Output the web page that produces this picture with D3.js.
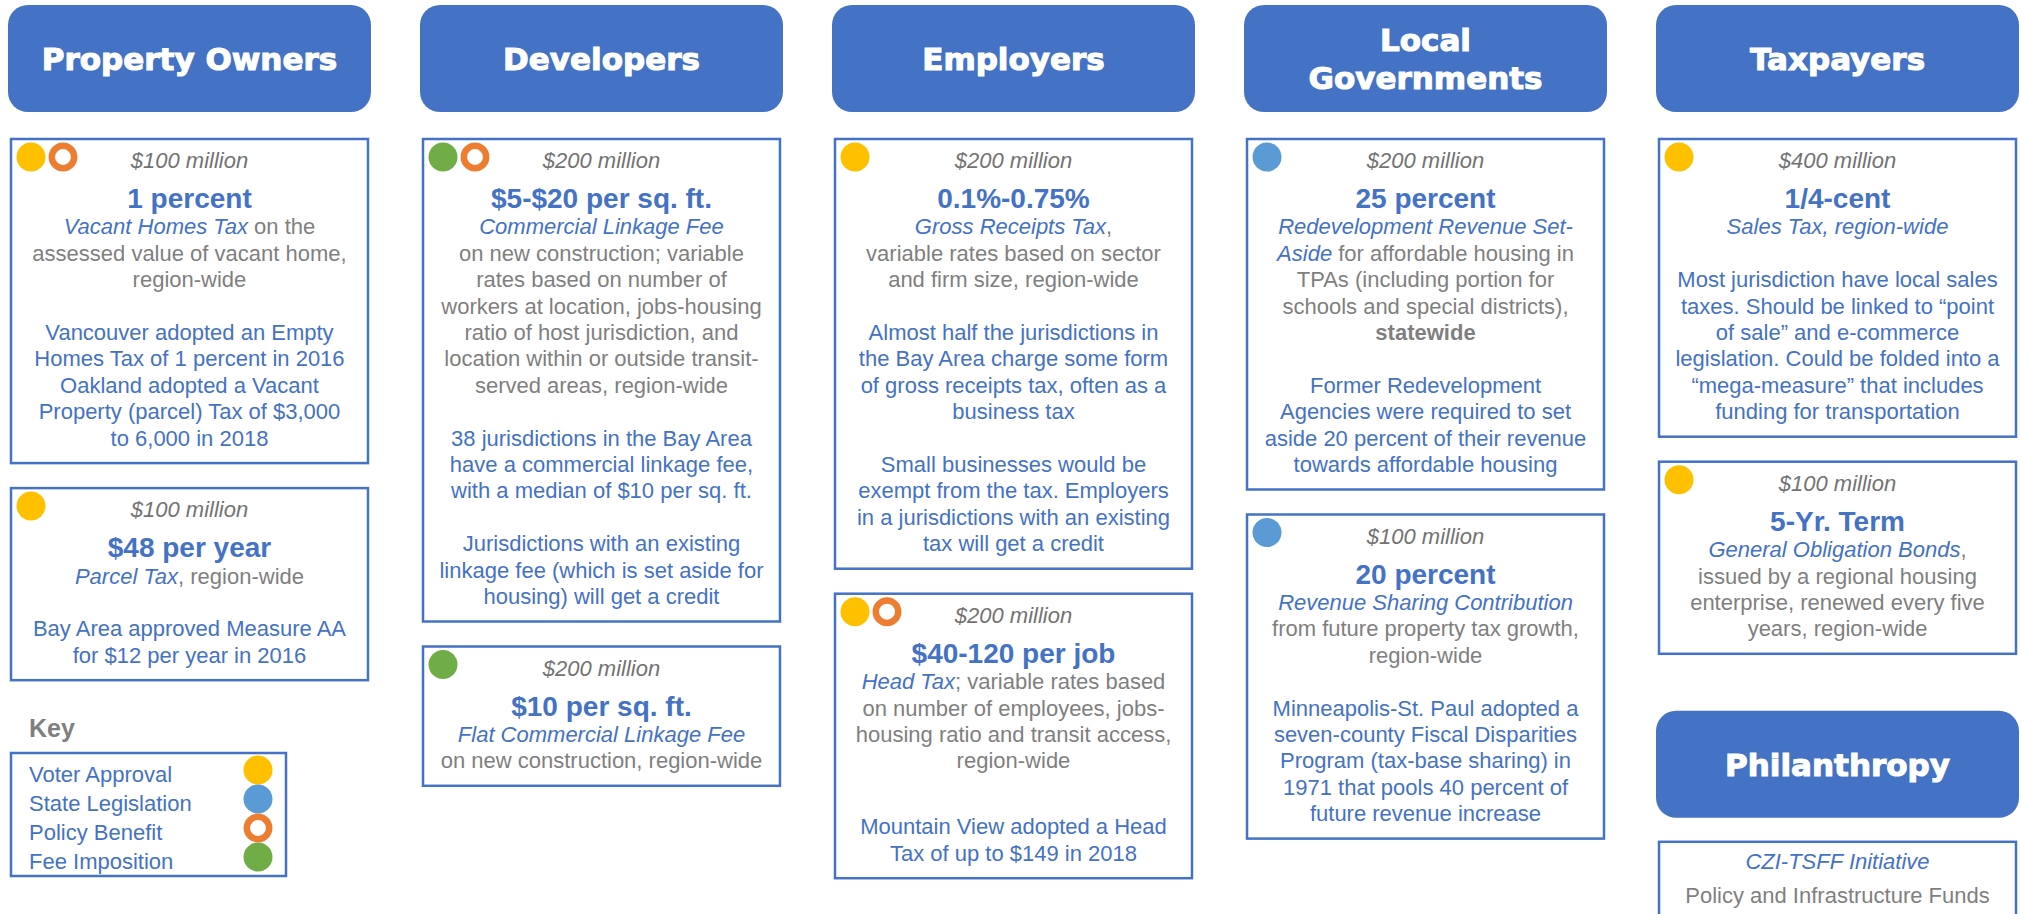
<!DOCTYPE html>
<html>
<head>
<meta charset="utf-8" />
<title>Revenue sources by payer</title>
<script src="https://d3js.org/d3.v7.min.js"></script>
<style>
    body { margin: 0; background: #fff; }
    svg { display: block; }
</style>
</head>
<body>
<svg width="2021" height="914"></svg>
<script>
// columns (who pays) and header wording
const columns = ['Property Owners', 'Developers', 'Employers', 'Local Governments', 'Taxpayers']
const headerLines = [['Property Owners'], ['Developers'], ['Employers'], ['Local', 'Governments'], ['Taxpayers']]

// key
const keyLabels = ['Voter Approval', 'State Legislation', 'Policy Benefit', 'Fee Imposition']
const keyColors = ['#FFC000', '#5B9BD5', '#ED7D31', '#70AD47']
const keyHollow = [false, false, true, false]

// one entry per card
const cardColumn = ['Property Owners', 'Property Owners', 'Developers', 'Developers', 'Employers',
    'Employers', 'Local Governments', 'Local Governments', 'Taxpayers', 'Taxpayers']
const cardKeys = [[0, 2], [0], [3, 2], [3], [0], [0, 2], [1], [1], [0], [0]]
const cardAmounts = ['$100 million', '$100 million', '$200 million', '$200 million', '$200 million',
    '$200 million', '$200 million', '$100 million', '$400 million', '$100 million']
const cardRates = ['1 percent', '$48 per year', '$5-$20 per sq. ft.', '$10 per sq. ft.', '0.1%-0.75%',
    '$40-120 per job', '25 percent', '20 percent', '1/4-cent', '5-Yr. Term']

// it = italic blue, gr = gray, bl = blue, bg = bold gray ; [] = blank line, 'half' = half blank line
const cardLines = [
    [
        [['it', 'Vacant Homes Tax'], ['gr', ' on the']],
        [['gr', 'assessed value of vacant home,']],
        [['gr', 'region-wide']],
        [],
        [['bl', 'Vancouver adopted an Empty']],
        [['bl', 'Homes Tax of 1 percent in 2016']],
        [['bl', 'Oakland adopted a Vacant']],
        [['bl', 'Property (parcel) Tax of $3,000']],
        [['bl', 'to 6,000 in 2018']],
    ],
    [
        [['it', 'Parcel Tax'], ['gr', ', region-wide']],
        [],
        [['bl', 'Bay Area approved Measure AA']],
        [['bl', 'for $12 per year in 2016']],
    ],
    [
        [['it', 'Commercial Linkage Fee']],
        [['gr', 'on new construction; variable']],
        [['gr', 'rates based on number of']],
        [['gr', 'workers at location, jobs-housing']],
        [['gr', 'ratio of host jurisdiction, and']],
        [['gr', 'location within or outside transit-']],
        [['gr', 'served areas, region-wide']],
        [],
        [['bl', '38 jurisdictions in the Bay Area']],
        [['bl', 'have a commercial linkage fee,']],
        [['bl', 'with a median of $10 per sq. ft.']],
        [],
        [['bl', 'Jurisdictions with an existing']],
        [['bl', 'linkage fee (which is set aside for']],
        [['bl', 'housing) will get a credit']],
    ],
    [
        [['it', 'Flat Commercial Linkage Fee']],
        [['gr', 'on new construction, region-wide']],
    ],
    [
        [['it', 'Gross Receipts Tax'], ['gr', ',']],
        [['gr', 'variable rates based on sector']],
        [['gr', 'and firm size, region-wide']],
        [],
        [['bl', 'Almost half the jurisdictions in']],
        [['bl', 'the Bay Area charge some form']],
        [['bl', 'of gross receipts tax, often as a']],
        [['bl', 'business tax']],
        [],
        [['bl', 'Small businesses would be']],
        [['bl', 'exempt from the tax. Employers']],
        [['bl', 'in a jurisdictions with an existing']],
        [['bl', 'tax will get a credit']],
    ],
    [
        [['it', 'Head Tax'], ['gr', '; variable rates based']],
        [['gr', 'on number of employees, jobs-']],
        [['gr', 'housing ratio and transit access,']],
        [['gr', 'region-wide']],
        [],
        'half',
        [['bl', 'Mountain View adopted a Head']],
        [['bl', 'Tax of up to $149 in 2018']],
    ],
    [
        [['it', 'Redevelopment Revenue Set-']],
        [['it', 'Aside'], ['gr', ' for affordable housing in']],
        [['gr', 'TPAs (including portion for']],
        [['gr', 'schools and special districts),']],
        [['bg', 'statewide']],
        [],
        [['bl', 'Former Redevelopment']],
        [['bl', 'Agencies were required to set']],
        [['bl', 'aside 20 percent of their revenue']],
        [['bl', 'towards affordable housing']],
    ],
    [
        [['it', 'Revenue Sharing Contribution']],
        [['gr', 'from future property tax growth,']],
        [['gr', 'region-wide']],
        [],
        [['bl', 'Minneapolis-St. Paul adopted a']],
        [['bl', 'seven-county Fiscal Disparities']],
        [['bl', 'Program (tax-base sharing) in']],
        [['bl', '1971 that pools 40 percent of']],
        [['bl', 'future revenue increase']],
    ],
    [
        [['it', 'Sales Tax, region-wide']],
        [],
        [['bl', 'Most jurisdiction have local sales']],
        [['bl', 'taxes. Should be linked to \u201cpoint']],
        [['bl', 'of sale\u201d and e-commerce']],
        [['bl', 'legislation. Could be folded into a']],
        [['bl', '\u201cmega-measure\u201d that includes']],
        [['bl', 'funding for transportation']],
    ],
    [
        [['it', 'General Obligation Bonds'], ['gr', ',']],
        [['gr', 'issued by a regional housing']],
        [['gr', 'enterprise, renewed every five']],
        [['gr', 'years, region-wide']],
    ],
]

// philanthropy block under taxpayers
const philanthropyTitle = 'Philanthropy'
const philanthropyLines = ['CZI-TSFF Initiative', 'Policy and Infrastructure Funds']

const BLUE = '#4472C4'
const GRAY = '#7f7f7f'
const FONT = 'Liberation Sans, Arial, sans-serif'
const LINE = 26.4

const svg = d3.select('svg')

const x = d3.scaleBand().domain(columns).range([8, 2019]).paddingInner(0.119)
const bw = x.bandwidth()

function drawHeader(g, lines, top) {
    g.append('rect')
        .attr('y', top)
        .attr('width', bw)
        .attr('height', 107)
        .attr('rx', 20)
        .attr('fill', BLUE)
    // stroke thickens the bold face toward the heavy original lettering
    const t = g.append('text')
        .attr('text-anchor', 'middle')
        .attr('font-family', 'DejaVu Sans, Verdana, sans-serif')
        .attr('font-weight', 'bold')
        .attr('font-size', 31)
        .attr('fill', '#fff')
        .attr('stroke', '#fff')
        .attr('stroke-width', 1.1)
    lines.forEach((l, i) => {
        t.append('tspan')
            .attr('x', bw / 2)
            .attr('y', top + 65 + (i - (lines.length - 1) / 2) * 38)
            .text(l)
    })
}

function segStyle(sel, style) {
    sel.attr('fill', style === 'gr' || style === 'bg' ? GRAY : BLUE)
        .attr('font-style', style === 'it' ? 'italic' : 'normal')
        .attr('font-weight', style === 'bg' ? 'bold' : 'normal')
}

function dot(sel, k) {
    sel.attr('r', keyHollow[k] ? 11.2 : 14.5)
        .attr('fill', keyHollow[k] ? '#fff' : keyColors[k])
        .attr('stroke', keyHollow[k] ? keyColors[k] : 'none')
        .attr('stroke-width', 6.5)
}

// returns card bottom
function drawCard(g, i, top) {
    const left = 3
    const w = bw - 6
    const cx = left + w / 2
    let y = top + 69
    const baselines = []
    cardLines[i].forEach((line) => {
        if (line === 'half') { y += LINE / 2; return }
        y += LINE
        baselines.push([line, y])
    })
    const bottom = y + 17.5

    g.append('rect')
        .attr('x', left)
        .attr('y', top)
        .attr('width', w)
        .attr('height', bottom - top)
        .attr('fill', '#fff')
        .attr('stroke', BLUE)
        .attr('stroke-width', 2.5)

    cardKeys[i].forEach((k, j) => {
        g.append('circle')
            .attr('cx', left + 20 + j * 32)
            .attr('cy', top + 18)
            .call(dot, k)
    })

    g.append('text')
        .attr('x', cx)
        .attr('y', top + 29)
        .attr('text-anchor', 'middle')
        .attr('font-family', FONT)
        .attr('font-style', 'italic')
        .attr('font-size', 22)
        .attr('fill', '#737373')
        .text(cardAmounts[i])

    g.append('text')
        .attr('x', cx)
        .attr('y', top + 69)
        .attr('text-anchor', 'middle')
        .attr('font-family', FONT)
        .attr('font-weight', 'bold')
        .attr('font-size', 28)
        .attr('fill', BLUE)
        .text(cardRates[i])

    baselines.forEach(([line, by]) => {
        if (!line.length) return
        const t = g.append('text')
            .attr('x', cx)
            .attr('y', by)
            .attr('text-anchor', 'middle')
            .attr('font-family', FONT)
            .attr('font-size', 22)
        line.forEach(([style, txt]) => {
            t.append('tspan').call(segStyle, style).text(txt)
        })
    })
    return bottom
}

columns.forEach((col, ci) => {
    const g = svg.append('g').attr('transform', `translate(${x(col)},0)`)
    drawHeader(g, headerLines[ci], 5)
    let top = 139
    cardColumn.forEach((c, i) => {
        if (c !== col) return
        top = drawCard(g, i, top) + 25
    })
    if (col === 'Taxpayers') {
        const htop = top + 32
        drawHeader(g, [philanthropyTitle], htop)
        const ctop = htop + 131
        g.append('rect')
            .attr('x', 3)
            .attr('y', ctop)
            .attr('width', bw - 6)
            .attr('height', 100)
            .attr('fill', '#fff')
            .attr('stroke', BLUE)
            .attr('stroke-width', 2.5)
        philanthropyLines.forEach((l, i) => {
            g.append('text')
                .attr('x', bw / 2)
                .attr('y', ctop + 27 + i * 34)
                .attr('text-anchor', 'middle')
                .attr('font-family', FONT)
                .attr('font-size', 22)
                .call(segStyle, i === 0 ? 'it' : 'gr')
                .text(l)
        })
    }
})

// key
const keyG = svg.append('g')
keyG.append('text')
    .attr('x', 29)
    .attr('y', 737)
    .attr('font-family', FONT)
    .attr('font-weight', 'bold')
    .attr('font-size', 25)
    .attr('fill', GRAY)
    .text('Key')
keyG.append('rect')
    .attr('x', 11)
    .attr('y', 753)
    .attr('width', 275)
    .attr('height', 123)
    .attr('fill', '#fff')
    .attr('stroke', BLUE)
    .attr('stroke-width', 2.5)

const keyY = d3.scaleBand().domain(keyLabels).range([755.5, 871.5])
keyG.selectAll('.key-label')
    .data(keyLabels)
    .enter()
    .append('text')
    .attr('class', 'key-label')
    .attr('x', 29)
    .attr('y', (d) => keyY(d) + keyY.bandwidth() / 2 + 12)
    .attr('font-family', FONT)
    .attr('font-size', 22)
    .attr('fill', BLUE)
    .text((d) => d)
keyG.selectAll('.key-dot')
    .data(keyLabels)
    .enter()
    .append('circle')
    .attr('class', 'key-dot')
    .attr('cx', 258)
    .attr('cy', (d) => keyY(d) + keyY.bandwidth() / 2)
    .each(function (d, i) { d3.select(this).call(dot, i) })
</script>
</body>
</html>
